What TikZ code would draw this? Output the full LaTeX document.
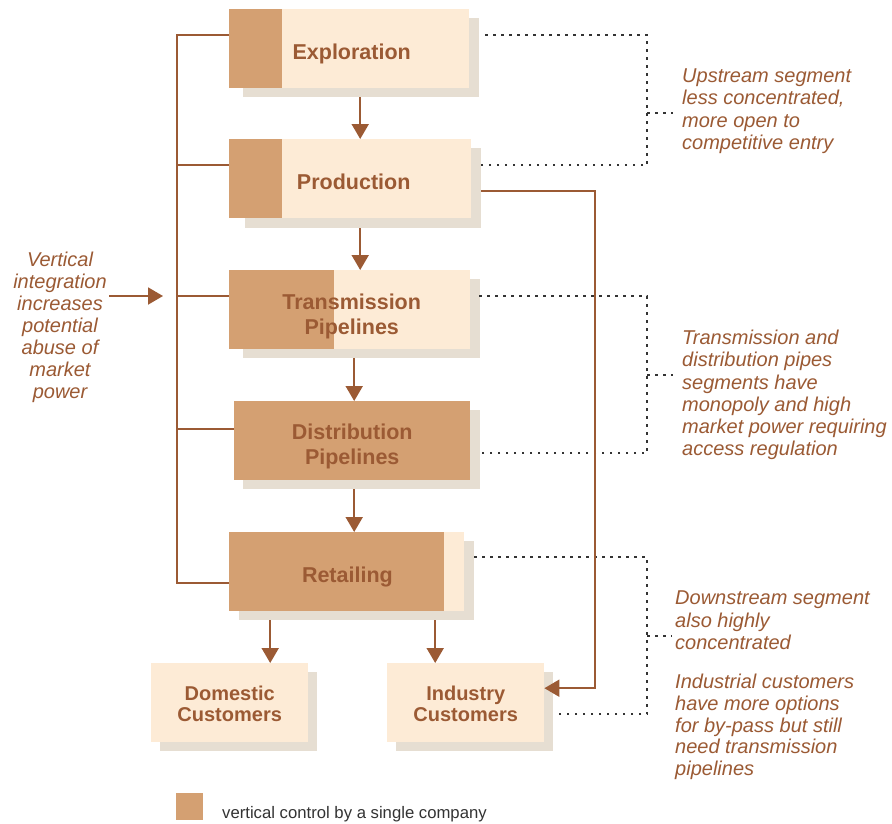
\documentclass[tikz,border=0pt]{standalone}
\usepackage{fontspec}
\setmainfont{Liberation Sans}
\usetikzlibrary{arrows.meta}
\definecolor{lightc}{HTML}{FDEBD6}
\definecolor{darkc}{HTML}{D4A072}
\definecolor{shadc}{HTML}{E6DED2}
\definecolor{brownc}{HTML}{9B5A34}
\definecolor{dotc}{HTML}{333333}
\definecolor{legc}{HTML}{333333}
\begin{document}
\begin{tikzpicture}[x=1pt,y=-1pt,
 stagebox/.style={fill=lightc, draw=none, inner sep=0, anchor=north west, minimum height=79pt},
 darkleft/.style={path picture={\fill[darkc] (path picture bounding box.north west) rectangle ([xshift=#1]path picture bounding box.south west);}},
 shadowbox/.style={fill=shadc},
 boxlabel/.style={text=brownc, font=\bfseries\fontsize{21.5}{25}\selectfont, align=center, inner sep=0},
 custlabel/.style={text=brownc, font=\bfseries\fontsize{20}{21.7}\selectfont, align=center, inner sep=0},
 note/.style={text=brownc, font=\itshape\fontsize{20}{22.3}\selectfont, align=left, inner sep=0, anchor=north west},
 link/.style={draw=brownc, line width=1.9pt},
 arr/.style={link, -{Triangle[width=17pt,length=15pt]}},
 dots/.style={draw=dotc, line width=1.3pt, dash pattern=on 2.5pt off 5.5pt},
]
\fill[white] (0,0) rectangle (892,823);
\useasboundingbox (0,0) rectangle (892,823);

% shadows
\fill[shadowbox] (243,18) rectangle (479,97);
\fill[shadowbox] (245,148) rectangle (481,228);
\fill[shadowbox] (243,279) rectangle (480,358);
\fill[shadowbox] (243,410) rectangle (480,489);
\fill[shadowbox] (239,541) rectangle (474,620);
\fill[shadowbox] (160,672) rectangle (317,751);
\fill[shadowbox] (396,672) rectangle (553,751);

% boxes
\node[stagebox, darkleft=53pt, minimum width=240pt] (expl) at (229,9) {};
\node[stagebox, darkleft=53pt, minimum width=242pt] (prod) at (229,139) {};
\node[stagebox, darkleft=105pt, minimum width=241pt] (trans) at (229,270) {};
\node[stagebox, fill=darkc, minimum width=236pt] (dist) at (234,401) {};
\node[stagebox, darkleft=215pt, minimum width=235pt] (ret) at (229,532) {};
\node[stagebox, minimum width=157pt] (dom) at (151,663) {};
\node[stagebox, minimum width=157pt] (ind) at (387,663) {};

% labels
\node[boxlabel, anchor=base] (explt) at ([xshift=2.5pt,yshift=-10.8pt]expl.center) {Exploration};
\node[boxlabel, anchor=base] (prodt) at ([xshift=3.5pt,yshift=-10.8pt]prod.center) {Production};
\node[boxlabel] (transt) at ([xshift=2pt,yshift=-6.5pt]trans.center) {Transmission\\Pipelines};
\node[boxlabel] (distt) at ([yshift=-6.1pt]dist.center) {Distribution\\Pipelines};
\node[boxlabel, anchor=base] (rett) at ([xshift=0.7pt,yshift=-11.2pt]ret.center) {Retailing};
\node[custlabel] (domt) at ([yshift=-1pt]dom.center) {Domestic\\Customers};
\node[custlabel] (indt) at ([yshift=-1pt]ind.center) {Industry\\Customers};

% dotted brackets
\draw[dots] (485,35) -- (647,35) -- (647,165) -- (481,165);
\draw[dots] (647,113) -- (673,113);
\draw[dots] (479,296) -- (647,296) -- (647,453) -- (479,453);
\draw[dots] (647,375) -- (673,375);
\draw[dots] (474,557) -- (647,557) -- (647,714) -- (555,714);
\draw[dots] (647,636) -- (672,636);

% flow arrows
\draw[arr] ([xshift=11pt,yshift=-9pt]expl.south) -- ([xshift=10pt]prod.north);
\draw[arr] ([xshift=10pt,yshift=-10pt]prod.south) -- ([xshift=10.5pt]trans.north);
\draw[arr] ([xshift=4.5pt,yshift=-9pt]trans.south) -- ([xshift=2pt]dist.north);
\draw[arr] ([xshift=2pt,yshift=-9pt]dist.south) -- ([xshift=7.5pt]ret.north);
\draw[arr] ([xshift=-76.5pt,yshift=-9pt]ret.south) -- ([xshift=40.5pt]dom.north);
\draw[arr] ([xshift=88.5pt,yshift=-9pt]ret.south) -- ([xshift=-30.5pt]ind.north);
\draw[arr] ([xshift=10pt,yshift=-12.5pt]prod.east) -| ([xshift=51pt,yshift=14.5pt]ind.east) -- ([yshift=14.5pt]ind.east);

% vertical integration bracket
\coordinate (b1) at (177,35);
\coordinate (b2) at (177,165);
\coordinate (b3) at (177,296);
\coordinate (b4) at (177,429);
\coordinate (b5) at (177,583);
\draw[link] (b1 -| expl.west) -- (b1) -- (b5) -- (b5 -| ret.west);
\draw[link] (b2) -- (b2 -| prod.west);
\draw[link] (b3) -- (b3 -| trans.west);
\draw[link] (b4) -- (b4 -| dist.west);
\coordinate (vstart) at (109,296);
\coordinate (vtip) at (163,296);
\draw[arr] (vstart) -- (vtip);

% notes
\node[note, anchor=north, align=center, font=\itshape\fontsize{20}{22.05}\selectfont] (vi) at (60,251.4) {Vertical\\integration\\increases\\potential\\abuse of\\market\\power};
\node[note] (n1) at (682,68.6) {Upstream segment\\less concentrated,\\more open to\\competitive entry};
\node[note] (n2) at (682,329.7) {Transmission and\\distribution pipes\\segments have\\monopoly and high\\market power requiring\\access regulation};
\node[note, font=\itshape\fontsize{20}{22.5}\selectfont] (n3) at (675,591) {Downstream segment\\also highly\\concentrated};
\node[note, font=\itshape\fontsize{20}{21.8}\selectfont] (n4) at (675,673.7) {Industrial customers\\have more options\\for by-pass but still\\need transmission\\pipelines};

% legend
\node[fill=darkc, inner sep=0, minimum size=27pt, anchor=north west] (legsq) at (176,793) {};
\node[anchor=base west, inner sep=0, text=legc, font=\fontsize{16.7}{20}\selectfont] (legt) at (222,818) {vertical control by a single company};
\end{tikzpicture}
\end{document}
